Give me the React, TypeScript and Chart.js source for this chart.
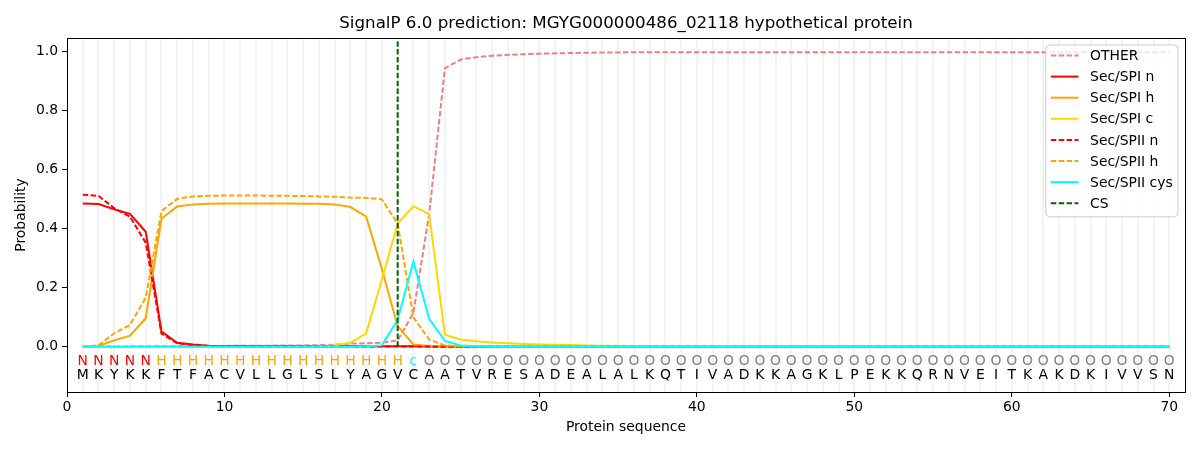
import { useEffect, useRef } from "react"
import { Chart, registerables, type Plugin } from "chart.js"

Chart.register(...registerables)

const FONT = "'DejaVu Sans', sans-serif"

const chartTitle = "SignalP 6.0 prediction: MGYG000000486_02118 hypothetical protein"

// protein sequence and predicted region per residue
const sequence = "MKYKKFTFACVLLGLSLYAGVCAATVRESADEALALKQTIVADKKAGKLPEKKQRNVEITKAKDKIVVSN".split("")
const regions = ("NNNNN" + "HHHHHHHHHHHHHHHH" + "c" +
  "OOOOOOOO" + "OOOOOOOO" + "OOOOOOOO" + "OOOOOOOO" + "OOOOOOOO" + "OOOOOOOO").split("")
const regionColors: Record<string, string> = { N: "#ff0000", H: "#ffa500", c: "#00ffff", O: "#808080" }

const xTicks = [0, 10, 20, 30, 40, 50, 60, 70]
const yTicks = [0, 0.2, 0.4, 0.6, 0.8, 1.0]
const csPosition = 21

const other = [
  0.001, 0.001, 0.001, 0.002, 0.002, 0.003, 0.003, 0.003, 0.003, 0.003,
  0.004, 0.004, 0.004, 0.005, 0.005, 0.006, 0.007, 0.011, 0.012, 0.014,
  0.022, 0.116, 0.45, 0.945, 0.974, 0.982, 0.987, 0.99, 0.992, 0.994,
  0.995, 0.996, 0.997, 0.998, 0.998, 0.999, 0.999, 0.999, 0.999, 0.999,
  0.999, 0.999, 0.999, 0.999, 0.999, 0.999, 0.999, 0.999, 0.999, 0.999,
  0.999, 0.999, 0.999, 0.999, 0.999, 0.999, 0.999, 0.999, 0.999, 0.999,
  0.999, 0.999, 0.999, 0.999, 0.999, 0.999, 0.999, 0.999, 0.999, 0.999,
]
const spiN = [
  0.486, 0.484, 0.466, 0.451, 0.39, 0.052, 0.014, 0.008, 0.004, 0.003,
  0.003, 0.002, 0.002, 0.002, 0.002, 0.002, 0.002, 0.002, 0.002, 0.002,
  0.002, 0.002, 0.001, 0.001, 0, 0, 0, 0, 0, 0,
  0, 0, 0, 0, 0, 0, 0, 0, 0, 0,
  0, 0, 0, 0, 0, 0, 0, 0, 0, 0,
  0, 0, 0, 0, 0, 0, 0, 0, 0, 0,
  0, 0, 0, 0, 0, 0, 0, 0, 0, 0,
]
const spiH = [
  0, 0.003, 0.022, 0.038, 0.097, 0.435, 0.476, 0.483, 0.485, 0.486,
  0.486, 0.486, 0.486, 0.486, 0.485, 0.485, 0.483, 0.474, 0.441, 0.263,
  0.07, 0.008, 0.003, 0.001, 0, 0, 0, 0, 0, 0,
  0, 0, 0, 0, 0, 0, 0, 0, 0, 0,
  0, 0, 0, 0, 0, 0, 0, 0, 0, 0,
  0, 0, 0, 0, 0, 0, 0, 0, 0, 0,
  0, 0, 0, 0, 0, 0, 0, 0, 0, 0,
]
const spiC = [
  0, 0, 0, 0, 0, 0, 0, 0, 0, 0,
  0, 0, 0, 0, 0.001, 0.002, 0.005, 0.014, 0.046, 0.229,
  0.418, 0.477, 0.45, 0.041, 0.025, 0.019, 0.015, 0.012, 0.01, 0.008,
  0.007, 0.006, 0.005, 0.004, 0.004, 0.003, 0.003, 0.003, 0.003, 0.002,
  0.002, 0.002, 0.002, 0.002, 0.002, 0.002, 0.002, 0.002, 0.002, 0.002,
  0.002, 0.002, 0.002, 0.002, 0.002, 0.002, 0.002, 0.002, 0.002, 0.002,
  0.002, 0.002, 0.002, 0.002, 0.002, 0.002, 0.002, 0.002, 0.002, 0.002,
]
const spiiN = [
  0.516, 0.512, 0.47, 0.441, 0.353, 0.045, 0.012, 0.006, 0.003, 0.002,
  0.002, 0.001, 0.001, 0.001, 0.001, 0.001, 0.001, 0.001, 0.001, 0.001,
  0.001, 0.001, 0.001, 0, 0, 0, 0, 0, 0, 0,
  0, 0, 0, 0, 0, 0, 0, 0, 0, 0,
  0, 0, 0, 0, 0, 0, 0, 0, 0, 0,
  0, 0, 0, 0, 0, 0, 0, 0, 0, 0,
  0, 0, 0, 0, 0, 0, 0, 0, 0, 0,
]
const spiiH = [
  0, 0.005, 0.046, 0.074, 0.167, 0.46, 0.502, 0.51, 0.512, 0.513,
  0.513, 0.513, 0.512, 0.512, 0.511, 0.51, 0.509, 0.506, 0.505, 0.5,
  0.418, 0.1, 0.025, 0.005, 0.002, 0.001, 0, 0, 0, 0,
  0, 0, 0, 0, 0, 0, 0, 0, 0, 0,
  0, 0, 0, 0, 0, 0, 0, 0, 0, 0,
  0, 0, 0, 0, 0, 0, 0, 0, 0, 0,
  0, 0, 0, 0, 0, 0, 0, 0, 0, 0,
]
const spiiCys = [
  0, 0, 0, 0, 0, 0, 0, 0, 0, 0,
  0, 0, 0, 0, 0, 0, 0, 0, 0.002, 0.005,
  0.093, 0.289, 0.095, 0.02, 0.005, 0.002, 0.001, 0, 0, 0,
  0, 0, 0, 0, 0, 0, 0, 0, 0, 0,
  0, 0, 0, 0, 0, 0, 0, 0, 0, 0,
  0, 0, 0, 0, 0, 0, 0, 0, 0, 0,
  0, 0, 0, 0, 0, 0, 0, 0, 0, 0,
]

const DASH = [5.5, 2.4]

const series = [
  { label: "OTHER", values: other, color: "#f08080", dash: DASH },
  { label: "Sec/SPI n", values: spiN, color: "#ff0000", dash: [] },
  { label: "Sec/SPI h", values: spiH, color: "#ffa500", dash: [] },
  { label: "Sec/SPI c", values: spiC, color: "#ffd700", dash: [] },
  { label: "Sec/SPII n", values: spiiN, color: "#ff0000", dash: DASH },
  { label: "Sec/SPII h", values: spiiH, color: "#ffa500", dash: DASH },
  { label: "Sec/SPII cys", values: spiiCys, color: "#00ffff", dash: [] },
]

const overlayPlugin: Plugin<"line"> = {
  id: "signalpOverlay",
  beforeDatasetsDraw(chart) {
    const { ctx, chartArea } = chart
    const x = chart.scales.x
    ctx.save()
    ctx.strokeStyle = "#f3f3f3"
    ctx.lineWidth = 2
    sequence.forEach((_, i) => {
      const px = Math.round(x.getPixelForValue(i + 1))
      ctx.beginPath()
      ctx.moveTo(px, chartArea.top)
      ctx.lineTo(px, chartArea.bottom)
      ctx.stroke()
    })
    ctx.restore()
  },
  afterDraw(chart) {
    const { ctx, chartArea } = chart
    const x = chart.scales.x
    const y = chart.scales.y
    ctx.save()

    // residue letters
    ctx.font = `13.9px ${FONT}`
    ctx.textAlign = "center"
    ctx.textBaseline = "middle"
    sequence.forEach((aa, i) => {
      const px = x.getPixelForValue(i + 1)
      ctx.fillStyle = regionColors[regions[i]]
      ctx.fillText(regions[i], px, y.getPixelForValue(-0.048))
      ctx.fillStyle = "#000"
      ctx.fillText(aa, px, y.getPixelForValue(-0.097))
    })

    // axes frame
    ctx.strokeStyle = "#000"
    ctx.lineWidth = 1
    ctx.strokeRect(Math.round(chartArea.left) + 0.5, Math.round(chartArea.top) + 0.5,
      Math.round(chartArea.width), Math.round(chartArea.height))

    // title
    ctx.font = `16.7px ${FONT}`
    ctx.fillStyle = "#000"
    ctx.textBaseline = "middle"
    ctx.fillText(chartTitle, (chartArea.left + chartArea.right) / 2, 23.5)

    // legend
    const items = chart.data.datasets.map((ds: any) => ({
      label: ds.label as string, color: ds.borderColor as string, dash: (ds.borderDash || []) as number[],
    }))
    ctx.font = `13.9px ${FONT}`
    const tw = Math.max(...items.map((it) => ctx.measureText(it.label).width))
    const rowH = 21.1
    const w = 5 + 27.6 + 11.7 + tw + 5.3
    const h = items.length * rowH + 3
    const bx = chartArea.right - 7 - w
    const by = chartArea.top + 7
    ctx.beginPath()
    ctx.roundRect(bx, by, w, h, 4)
    ctx.fillStyle = "rgba(255,255,255,0.8)"
    ctx.fill()
    ctx.strokeStyle = "#cccccc"
    ctx.stroke()
    ctx.textAlign = "left"
    items.forEach((it, i) => {
      const cy = by + 10.5 + i * rowH
      ctx.beginPath()
      ctx.setLineDash(it.dash)
      ctx.strokeStyle = it.color
      ctx.lineWidth = 2
      ctx.moveTo(bx + 5, cy)
      ctx.lineTo(bx + 32.6, cy)
      ctx.stroke()
      ctx.setLineDash([])
      ctx.fillStyle = "#000"
      ctx.fillText(it.label, bx + 44.3, cy + 1)
    })
    ctx.restore()
  },
}

export default function App() {
  const canvasRef = useRef<HTMLCanvasElement>(null)
  const chartRef = useRef<Chart | null>(null)

  useEffect(() => {
    if (!canvasRef.current) return
    document.body.style.margin = "0"
    if (chartRef.current) chartRef.current.destroy()

    const datasets: any[] = series.map((s, i) => ({
      label: s.label,
      data: s.values.map((v, j) => ({ x: j + 1, y: v })),
      borderColor: s.color,
      backgroundColor: s.color,
      borderDash: s.dash,
      borderWidth: 2,
      pointRadius: 0,
      tension: 0,
      order: 20 - i,
    }))
    datasets.push({
      label: "CS",
      data: [{ x: csPosition, y: 0 }, { x: csPosition, y: 1.035 }],
      borderColor: "#006400",
      backgroundColor: "#006400",
      borderDash: DASH,
      borderWidth: 2,
      pointRadius: 0,
      order: 0,
    })

    chartRef.current = new Chart(canvasRef.current, {
      type: "line",
      data: { datasets },
      plugins: [overlayPlugin],
      options: {
        animation: false,
        responsive: false,
        devicePixelRatio: 1,
        layout: { padding: { top: 38, right: 15, left: 0, bottom: 0 } },
        plugins: { legend: { display: false }, title: { display: false }, tooltip: { enabled: false } },
        font: { family: FONT },
        scales: {
          x: {
            type: "linear",
            min: 0,
            max: 71,
            afterFit: (s: any) => { s.height = 58 },
            afterBuildTicks: (s: any) => { s.ticks = xTicks.map((v) => ({ value: v })) },
            grid: { display: true, drawOnChartArea: false, drawTicks: true, tickLength: 5, color: "#000", tickColor: "#000" },
            border: { display: false },
            ticks: { color: "#000", padding: 2, font: { family: FONT, size: 13.9 }, maxRotation: 0, callback: (v: any) => String(v) },
            title: { display: true, text: "Protein sequence", color: "#000", font: { family: FONT, size: 13.9 }, padding: { top: 0, bottom: 14 } },
          },
          y: {
            type: "linear",
            min: -0.153,
            max: 1.047,
            afterFit: (s: any) => { s.width = 67 },
            afterBuildTicks: (s: any) => { s.ticks = yTicks.map((v) => ({ value: v })) },
            grid: { display: true, drawOnChartArea: false, drawTicks: true, tickLength: 5, color: "#000", tickColor: "#000" },
            border: { display: false },
            ticks: { color: "#000", padding: 4, font: { family: FONT, size: 13.9 }, callback: (v: any) => Number(v).toFixed(1) },
            title: { display: true, text: "Probability", color: "#000", font: { family: FONT, size: 13.9 }, padding: { top: 13.4, bottom: 0 } },
          },
        },
      },
    } as any)

    return () => {
      if (chartRef.current) {
        chartRef.current.destroy()
        chartRef.current = null
      }
    }
  }, [])

  return (
    <div style={{ width: 1200, height: 450 }}>
      <canvas ref={canvasRef} width={1200} height={450} style={{ display: "block" }}></canvas>
    </div>
  )
}
